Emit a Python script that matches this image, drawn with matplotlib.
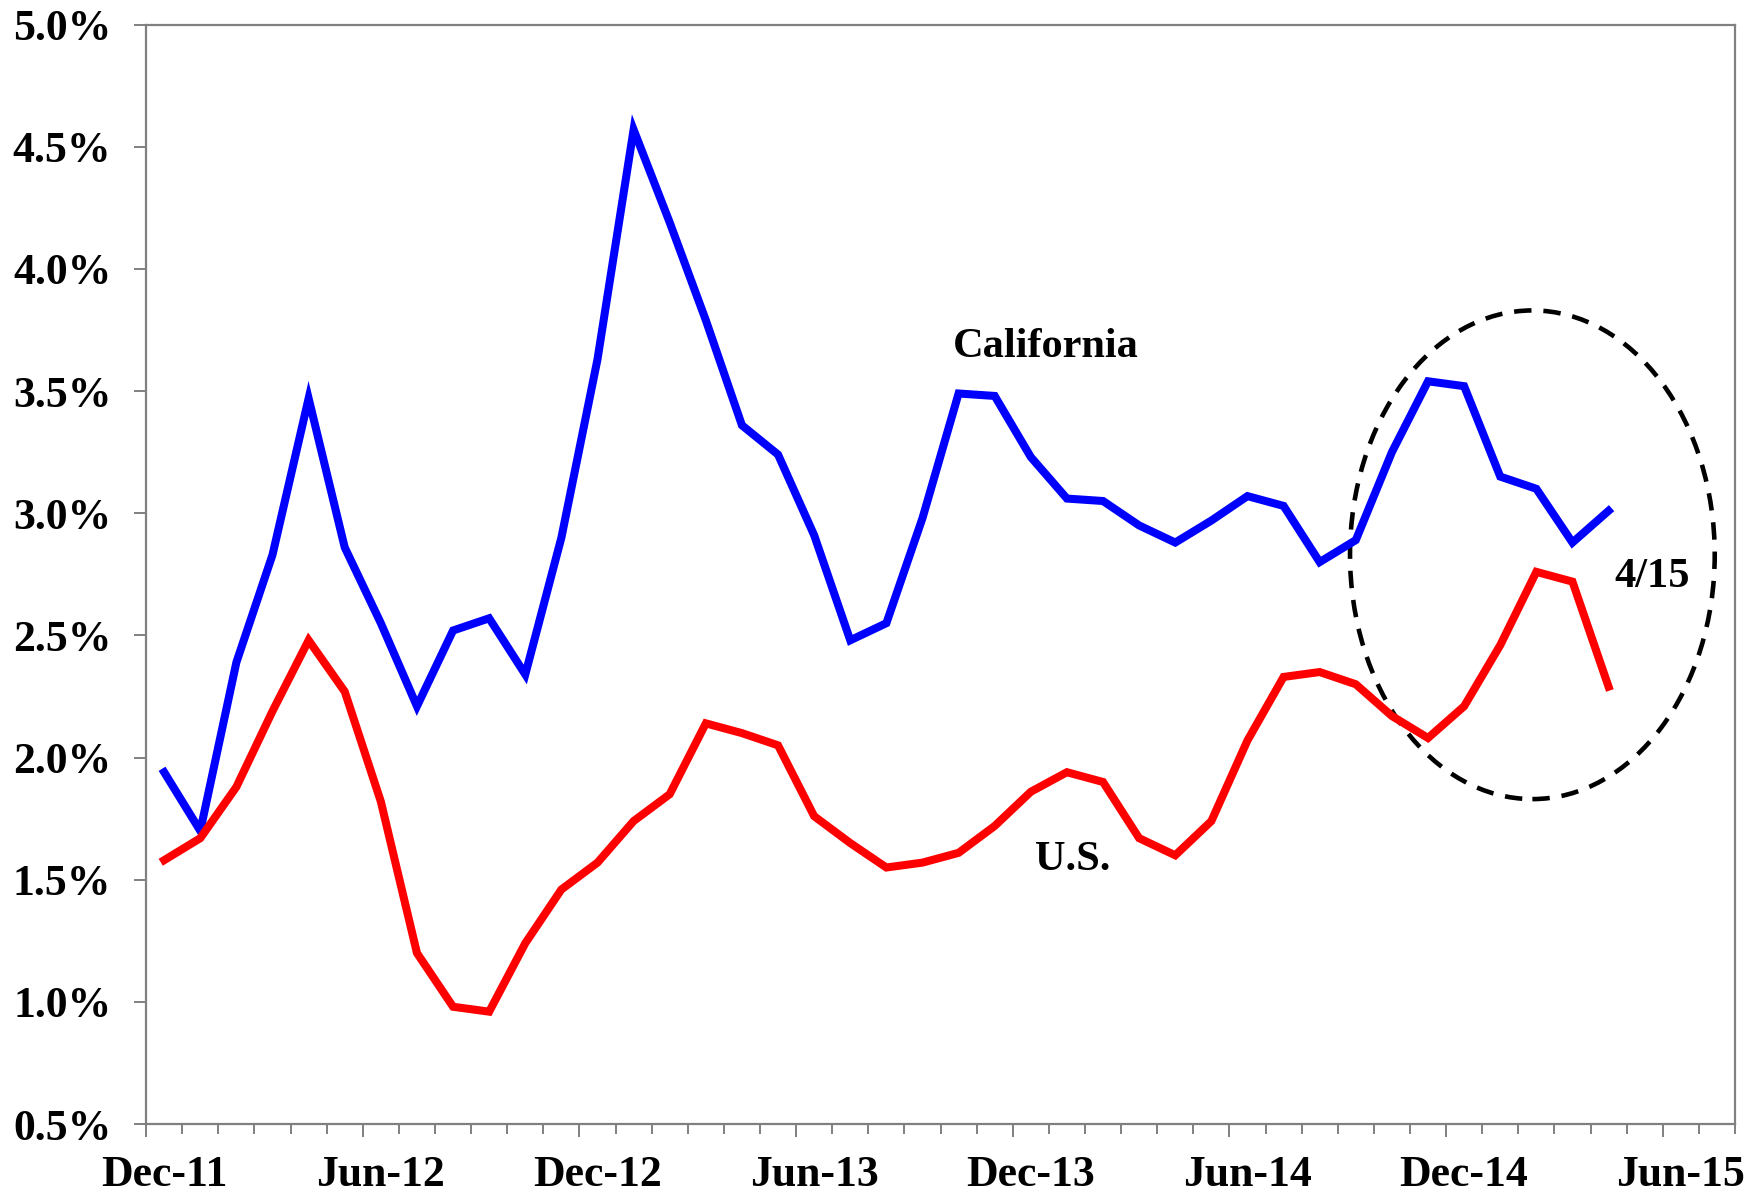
import numpy as np
import pandas as pd
import matplotlib
matplotlib.use("Agg")
import matplotlib.pyplot as plt
import matplotlib.transforms as mtransforms
from matplotlib.patches import Ellipse
from matplotlib.ticker import FixedLocator, MultipleLocator, FuncFormatter

# =========================================================
# DATA (year-over-year job growth, monthly Dec-11 .. Apr-15)
# =========================================================

months = pd.period_range("2011-12", "2015-04", freq="M")

california = [
    1.94, 1.70, 2.39, 2.83, 3.47, 2.86, 2.55, 2.21, 2.52, 2.57,
    2.34, 2.90, 3.63, 4.57, 4.19, 3.79, 3.36, 3.24, 2.91, 2.48,
    2.55, 2.98, 3.49, 3.48, 3.23, 3.06, 3.05, 2.95, 2.88, 2.97,
    3.07, 3.03, 2.80, 2.89, 3.25, 3.54, 3.52, 3.15, 3.10, 2.88,
    3.01,
]

us = [
    1.58, 1.67, 1.88, 2.19, 2.48, 2.27, 1.82, 1.20, 0.98, 0.96,
    1.24, 1.46, 1.57, 1.74, 1.85, 2.14, 2.10, 2.05, 1.76, 1.65,
    1.55, 1.57, 1.61, 1.72, 1.86, 1.94, 1.90, 1.67, 1.60, 1.74,
    2.07, 2.33, 2.35, 2.30, 2.17, 2.08, 2.21, 2.46, 2.76, 2.72,
    2.29,
]

tick_labels = ["Dec-11", "Jun-12", "Dec-12", "Jun-13",
               "Dec-13", "Jun-14", "Dec-14", "Jun-15"]

# months counted from Dec-11, points sit mid-month
x = np.arange(len(months)) + 0.5

# =========================================================
# FIGURE
# =========================================================

plt.rcParams["font.family"] = ["Liberation Serif", "DejaVu Serif"]
plt.rcParams["font.weight"] = "bold"

fig = plt.figure(figsize=(17.5, 11.93), dpi=100)
ax = fig.add_axes([0.0835, 0.0578, 0.9079, 0.9216])

ax.plot(x, california, color="#0000ff", linewidth=5.8, solid_joinstyle="miter")
ax.plot(x, us, color="#ff0000", linewidth=5.8, solid_joinstyle="miter")

# dashed ellipse around latest months
ell = Ellipse((38.39, 2.83), width=10.1, height=2.0, fill=False,
              edgecolor="black", linewidth=3.3, linestyle=(0, (3.8, 2.6)))
ax.add_patch(ell)

ax.text(24.92, 3.68, "California", fontsize=30.5, fontweight="bold",
        ha="center", va="center")
ax.text(25.66, 1.58, "U.S.", fontsize=30.5, fontweight="bold",
        ha="center", va="center")
ax.text(41.72, 2.74, "4/15", fontsize=30.5, fontweight="bold",
        ha="center", va="center")

# =========================================================
# AXES
# =========================================================

ax.set_xlim(0, 44)
ax.set_ylim(0.5, 5.0)

ax.xaxis.set_major_locator(FixedLocator(np.arange(0, 43, 6)))
ax.xaxis.set_minor_locator(MultipleLocator(1))
ax.set_xticklabels(tick_labels)

ax.yaxis.set_major_locator(MultipleLocator(0.5))
ax.yaxis.set_major_formatter(FuncFormatter(lambda v, p: f"{v:.1f}%"))

for s in ax.spines.values():
    s.set_color("#808080")
    s.set_linewidth(1.6)

ax.tick_params(axis="x", which="major", direction="out", length=9,
               width=1.4, color="#808080", pad=13, labelsize=31.5)
ax.tick_params(axis="x", which="minor", direction="out", length=7,
               width=1.4, color="#808080")
ax.tick_params(axis="y", which="major", direction="out", length=9,
               width=1.4, color="#808080", pad=16, labelsize=31.5)

# date labels sit under the middle of the month, like the source
shift = mtransforms.ScaledTranslation(0.18, 0, fig.dpi_scale_trans)
for lbl in ax.get_xticklabels():
    lbl.set_fontweight("bold")
    lbl.set_transform(lbl.get_transform() + shift)
for lbl in ax.get_yticklabels():
    lbl.set_fontweight("bold")

fig.savefig("out.png", dpi=100)
